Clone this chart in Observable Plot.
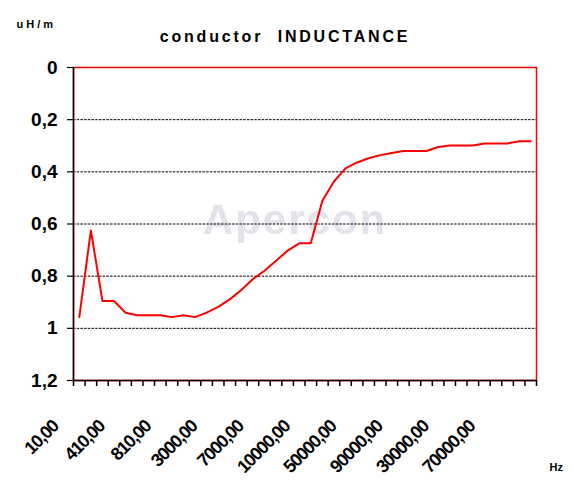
<!DOCTYPE html>
<html>
<head>
<meta charset="utf-8">
<script src="https://cdn.jsdelivr.net/npm/d3@7"></script>
<script src="https://cdn.jsdelivr.net/npm/@observablehq/plot@0.6"></script>
<style>
  html, body { margin: 0; padding: 0; background: #fff; }
</style>
</head>
<body>
<div id="chart"></div>
<script>
// Frequency categories (Hz), as labelled on the x axis
const categories = [
  "10,00","110,00","210,00","310,00","410,00","510,00","610,00","710,00","810,00","910,00",
  "1000,00","2000,00","3000,00","4000,00","5000,00","6000,00","7000,00","8000,00","9000,00","9500,00",
  "10000,00","20000,00","30000,00","40000,00","50000,00","60000,00","70000,00","80000,00","90000,00","10000,00",
  "15000,00","20000,00","30000,00","40000,00","50000,00","60000,00","70000,00","80000,00","90000,00","100000,00"
];
// Inductance (uH/m)
const inductance = [
  0.957, 0.625, 0.895, 0.895, 0.94, 0.95, 0.95, 0.95, 0.957, 0.95,
  0.957, 0.94, 0.918, 0.889, 0.853, 0.811, 0.779, 0.741, 0.702, 0.674,
  0.674, 0.511, 0.437, 0.387, 0.364, 0.348, 0.336, 0.328, 0.32, 0.32,
  0.32, 0.305, 0.299, 0.299, 0.299, 0.291, 0.291, 0.291, 0.283, 0.283
];
const yTicks = [0, 0.2, 0.4, 0.6, 0.8, 1, 1.2];
const labelStep = 4;
const titleText = "conductor  INDUCTANCE";
const unitY = "uH/m";
const unitX = "Hz";
const watermark = "Apercon";

const rows = inductance.map((v, i) => ({pos: i + 0.5, v}));
const labelRows = categories
  .map((c, i) => ({pos: i + 0.5, label: c, i}))
  .filter(d => d.i % labelStep === 0);
const boundaries = d3.range(categories.length + 1);
const fmtY = d => d === 0 ? "0" : String(+d.toFixed(1)).replace(".", ",");
const font = "'Liberation Sans', Arial, Helvetica, sans-serif";

const chart = Plot.plot({
  width: 574,
  height: 495,
  marginLeft: 73,
  marginRight: 38,
  marginTop: 67,
  marginBottom: 115,
  style: {fontFamily: font, background: "#fff", color: "#000"},
  x: {domain: [0, categories.length], axis: null},
  y: {domain: [0, 1.2], reverse: true, axis: null},
  marks: [
    Plot.text([watermark], {frameAnchor: "middle", dx: -10, dy: -3, fontSize: 42, fontWeight: "bold", fill: "#e2e4ea"}),
    Plot.gridY(yTicks, {stroke: "#000", strokeOpacity: 1, strokeWidth: 1, strokeDasharray: "2.5,1.2"}),
    Plot.frame({stroke: "red", strokeWidth: 1.5}),
    Plot.ruleX([0], {stroke: "#000", strokeWidth: 1.5}),
    Plot.ruleY([1.2], {stroke: "#000", strokeWidth: 1.5}),
    Plot.axisX({ticks: boundaries, tickSize: 6, tickFormat: () => "", label: null, stroke: "#000", strokeWidth: 1.5}),
    Plot.axisY({ticks: yTicks, tickSize: 6, tickPadding: 10, tickFormat: fmtY, label: null, fontSize: 19, fontWeight: "bold", stroke: "#000", strokeWidth: 1.2, fill: "#000"}),
    Plot.text(labelRows, {x: "pos", text: "label", frameAnchor: "bottom", rotate: -45, textAnchor: "end", lineAnchor: "middle", dx: -24, dy: 43, fontSize: 18, fontWeight: "bold", fill: "#000"}),
    Plot.line(rows, {x: "pos", y: "v", stroke: "red", strokeWidth: 2}),
    Plot.text([titleText], {frameAnchor: "top", dx: -20, dy: -26, lineAnchor: "bottom", fontSize: 16, fontWeight: "bold", fill: "#000"}),
    Plot.text([unitY], {frameAnchor: "top-left", dx: -57, dy: -40, lineAnchor: "bottom", textAnchor: "start", fontSize: 11, fontWeight: "bold", fill: "#000"}),
    Plot.text([unitX], {frameAnchor: "bottom-right", dx: 13, dy: 90, lineAnchor: "bottom", textAnchor: "start", fontSize: 11, fontWeight: "bold", fill: "#000"})
  ]
});

const svg = d3.select(chart);
svg.selectAll("text").filter(function () { return this.textContent === titleText; })
  .style("white-space", "pre").style("letter-spacing", "2.8px");
svg.selectAll("text").filter(function () { return this.textContent === unitY; })
  .style("letter-spacing", "3px");
svg.selectAll("text").filter(function () { return this.textContent === watermark; })
  .style("letter-spacing", "2px");
svg.selectAll("text").filter(function () { return labelRows.some(d => d.label === this.textContent); })
  .style("letter-spacing", "-1.2px");
document.getElementById("chart").appendChild(chart);
</script>
</body>
</html>
